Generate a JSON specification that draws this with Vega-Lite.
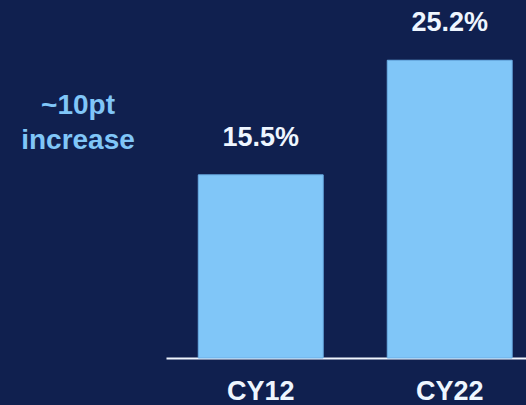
{
  "$schema": "https://vega.github.io/schema/vega-lite/v6.json",
  "autosize": {"type": "none"},
  "width": 360,
  "height": 358,
  "padding": {"left": 166, "top": 0, "right": 0, "bottom": 47},
  "background": "#10204f",
  "config": {"view": {"stroke": null}, "font": "Liberation Sans"},
  "title": {
    "text": ["~10pt", "increase"],
    "orient": "top",
    "anchor": "start",
    "frame": "group",
    "align": "center",
    "baseline": "top",
    "offset": 0,
    "dx": -88,
    "dy": 155,
    "fontSize": 28,
    "fontWeight": "bold",
    "lineHeight": 35,
    "color": "#80c6f8",
    "font": "Liberation Sans"
  },
  "data": {"values": [
    {"year": "CY12", "share": 15.5, "label": "15.5%"},
    {"year": "CY22", "share": 25.2, "label": "25.2%"}
  ]},
  "encoding": {
    "x": {
      "field": "year", "type": "nominal", "sort": null,
      "scale": {"paddingInner": 0.339, "paddingOuter": 0.122, "align": 0.7},
      "axis": {
        "title": null, "labelAngle": 0, "ticks": false,
        "domainColor": "#f0f6ff", "domainWidth": 2,
        "labelColor": "#eef6ff", "labelFont": "Liberation Sans",
        "labelFontSize": 27, "labelFontWeight": "bold", "labelPadding": 20
      }
    },
    "y": {
      "field": "share", "type": "quantitative",
      "scale": {"domain": [0, 30.3], "nice": false},
      "axis": null
    }
  },
  "layer": [
    {"mark": {"type": "bar", "color": "#80c6f8", "stroke": "#6aaee6", "strokeWidth": 1}},
    {
      "mark": {"type": "text", "dy": -37, "baseline": "middle", "fontSize": 27, "fontWeight": "bold", "color": "#eef6ff", "font": "Liberation Sans"},
      "encoding": {"text": {"field": "label"}}
    }
  ]
}
